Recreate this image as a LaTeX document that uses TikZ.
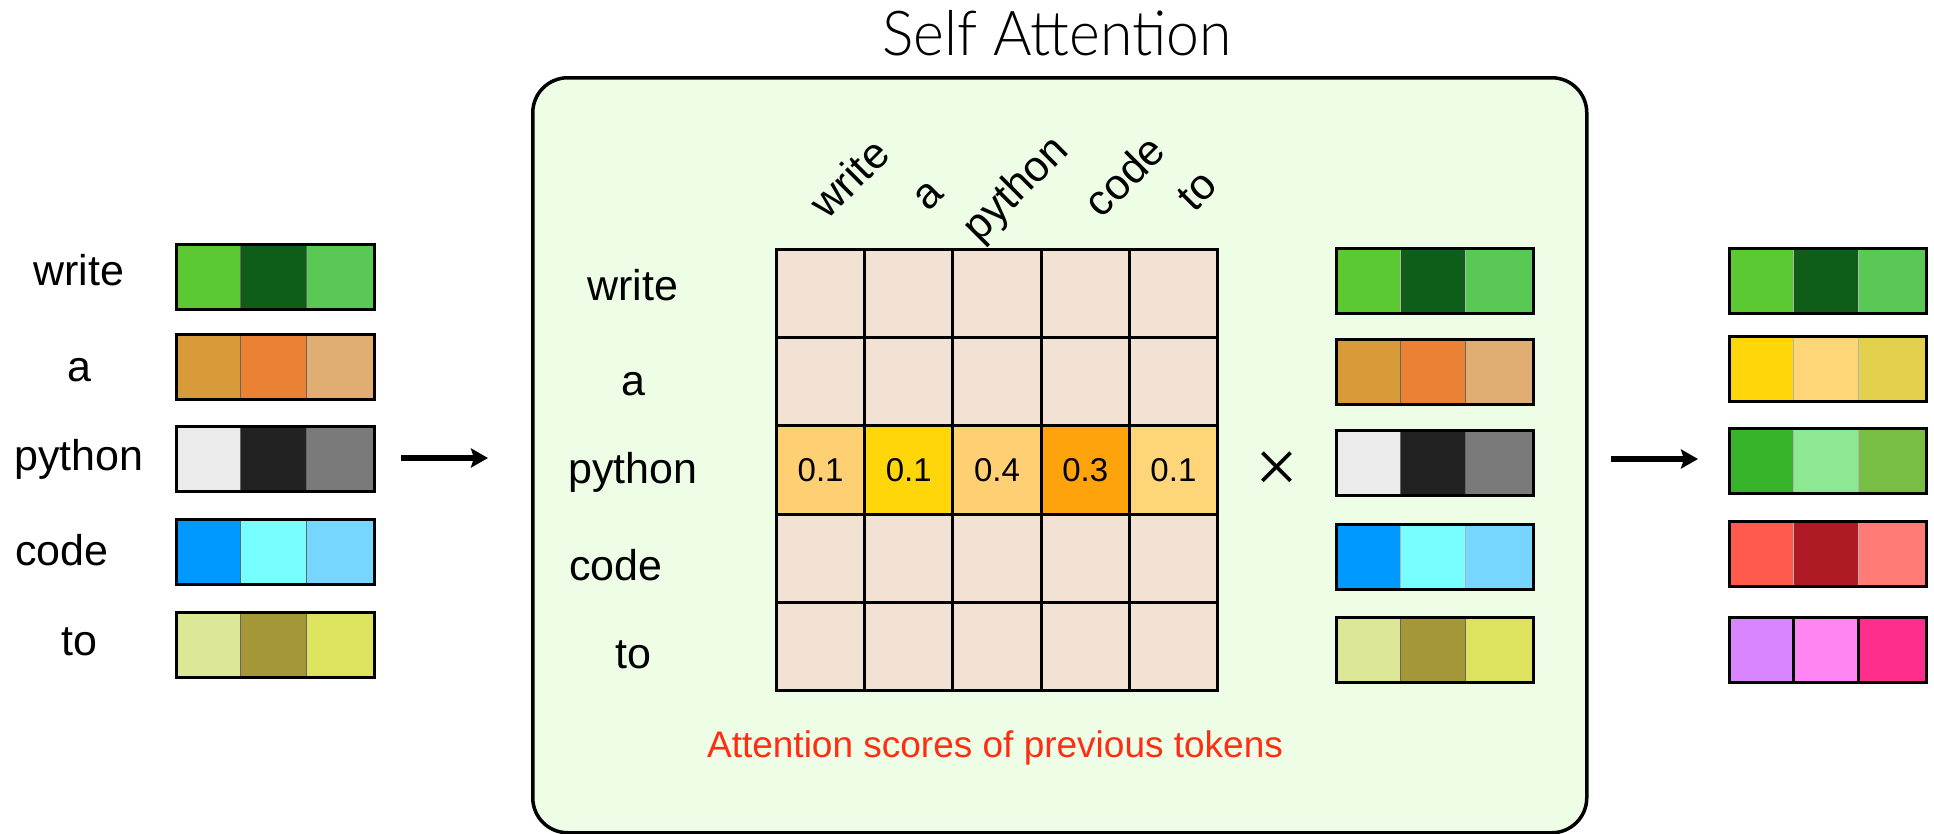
\documentclass[tikz,border=0pt]{standalone}
\usepackage{fontspec}
\setmainfont{Liberation Sans}
\newfontfamily\titlefont[FakeStretch=0.95]{Lato Light}
\newfontfamily\opfont{Liberation Serif}
\usetikzlibrary{arrows.meta}

% panel and grid colours
\definecolor{framefill}{HTML}{EDFDE6}
\definecolor{cellfill}{HTML}{F2E2D3}
\definecolor{scoreA}{HTML}{FFD073}
\definecolor{scoreB}{HTML}{FFD60A}
\definecolor{scoreC}{HTML}{FFA30D}
\definecolor{scoreD}{HTML}{FFD57A}
\definecolor{attnred}{HTML}{FF2D12}
% token embedding colours
\definecolor{wA}{HTML}{5DC932}\definecolor{wB}{HTML}{0E5E1A}\definecolor{wC}{HTML}{59C855}
\definecolor{aA}{HTML}{D99B3A}\definecolor{aB}{HTML}{EB8133}\definecolor{aC}{HTML}{E0AE72}
\definecolor{pA}{HTML}{EBEBEB}\definecolor{pB}{HTML}{222222}\definecolor{pC}{HTML}{7A7A7A}
\definecolor{cA}{HTML}{0099FF}\definecolor{cB}{HTML}{77FFFF}\definecolor{cC}{HTML}{77D6FF}
\definecolor{tA}{HTML}{DDE896}\definecolor{tB}{HTML}{A39738}\definecolor{tC}{HTML}{DDE35E}
% output embedding colours
\definecolor{oaA}{HTML}{FFD60A}\definecolor{oaB}{HTML}{FFD57A}\definecolor{oaC}{HTML}{E3D14E}
\definecolor{opA}{HTML}{38B42A}\definecolor{opB}{HTML}{8DE893}\definecolor{opC}{HTML}{78BE44}
\definecolor{ocA}{HTML}{FF5A4B}\definecolor{ocB}{HTML}{AE1B24}\definecolor{ocC}{HTML}{FF7B75}
\definecolor{otA}{HTML}{D885FF}\definecolor{otB}{HTML}{FF85F5}\definecolor{otC}{HTML}{FF2E8C}

% #1 name, #2 left, #3 top, #4 cell width, #5-#7 cell colours, #8 divider style
\newcommand\tokvec[8]{%
  \fill[#5] (#2,#3) rectangle ++(#4,65);
  \fill[#6] (#2+#4,#3) rectangle ++(#4,65);
  \fill[#7] (#2+2*#4,#3) rectangle ++(#4,65);
  \draw[#8] (#2+#4,#3) -- ++(0,65);
  \draw[#8] (#2+2*#4,#3) -- ++(0,65);
  \node[vecframe, minimum width={3*#4pt}, anchor=north west] (#1) at (#2,#3) {};
}

\begin{document}
\begin{tikzpicture}[x=1pt, y=-1pt,
  lbl/.style={font=\fontsize{43}{43}\selectfont, inner sep=0pt},
  vecframe/.style={draw=black, line width=3pt, minimum height=65pt, inner sep=0pt},
  thindiv/.style={draw=black!60, line width=1pt},
  palediv/.style={draw=black!30, line width=1pt},
  boldiv/.style={draw=black, line width=3pt},
  cell/.style={draw=black, line width=3pt, minimum size=88.2pt, inner sep=0pt,
    anchor=north west, fill=cellfill, font=\fontsize{33}{33}\selectfont},
  flow/.style={line width=6pt, -{Stealth[length=17pt,width=19pt,inset=3pt]}}]

\useasboundingbox (0,0) rectangle (1934,833);

% input tokens and their embeddings
\node[lbl, anchor=base] (lw) at (79,285) {write};
\node[lbl, anchor=base] (la) at (79,381) {a};
\node[lbl, anchor=base] (lp) at (79,470) {python};
\node[lbl, anchor=base west] (lc) at (15,565) {code};
\node[lbl, anchor=base] (lt) at (79,655) {to};

\tokvec{lv1}{174.5}{242.5}{66}{wA}{wB}{wC}{thindiv}
\tokvec{lv2}{174.5}{332.5}{66}{aA}{aB}{aC}{thindiv}
\tokvec{lv3}{174.5}{424.5}{66}{pA}{pB}{pC}{thindiv}
\tokvec{lv4}{174.5}{517.5}{66}{cA}{cB}{cC}{thindiv}
\tokvec{lv5}{174.5}{610.5}{66}{tA}{tB}{tC}{thindiv}

% self-attention panel
\node[draw=black, line width=3.5pt, rounded corners=35pt, fill=framefill,
  minimum width=1054pt, minimum height=755pt, inner sep=0pt, anchor=north west]
  (frame) at (531,76) {};
\node[font=\titlefont\fontsize{62}{62}\selectfont, anchor=base, inner sep=0pt]
  (title) at (1057,55) {Self Attention};

% column headers
\node[lbl, rotate=45] (cw) at (849,178) {write};
\node[lbl, rotate=45] (ca) at (929,196) {a};
\node[lbl, rotate=45] (cp) at (1017,190) {python};
\node[lbl, rotate=45] (cc) at (1124,176) {code};
\node[lbl, rotate=45] (ct) at (1197,191) {to};

% row headers
\node[lbl, anchor=base] (rw) at (633,300) {write};
\node[lbl, anchor=base] (ra) at (633,395) {a};
\node[lbl, anchor=base] (rp) at (633,483) {python};
\node[lbl, anchor=base west] (rc) at (569,580) {code};
\node[lbl, anchor=base] (rt) at (633,668) {to};

% score matrix
\foreach \r in {0,1,3,4}
  \foreach \c in {0,...,4}
    \node[cell] (g\r\c) at (775+88.2*\c, 248+88.2*\r) {};
\node[cell, fill=scoreA] (g20) at (775, 424.4) {0.1};
\node[cell, fill=scoreB] (g21) at (863.2, 424.4) {0.1};
\node[cell, fill=scoreA] (g22) at (951.4, 424.4) {0.4};
\node[cell, fill=scoreC] (g23) at (1039.6, 424.4) {0.3};
\node[cell, fill=scoreD] (g24) at (1127.8, 424.4) {0.1};

\node[font=\opfont\fontsize{76}{76}\selectfont, inner sep=0pt] (times) at (1277,472) {×};

% value vectors
\tokvec{mv1}{1334.5}{246.5}{65.7}{wA}{wB}{wC}{palediv}
\tokvec{mv2}{1334.5}{337.5}{65.7}{aA}{aB}{aC}{thindiv}
\tokvec{mv3}{1334.5}{428.5}{65.7}{pA}{pB}{pC}{thindiv}
\tokvec{mv4}{1334.5}{522.5}{65.7}{cA}{cB}{cC}{palediv}
\tokvec{mv5}{1334.5}{615.5}{65.7}{tA}{tB}{tC}{thindiv}

\node[font=\fontsize{37}{37}\selectfont, text=attnred, anchor=base, inner sep=0pt]
  (caption) at (995,757) {Attention scores of previous tokens};

% output embeddings
\tokvec{ov1}{1727.5}{246.5}{65.7}{wA}{wB}{wC}{palediv}
\tokvec{ov2}{1727.5}{334.5}{65.7}{oaA}{oaB}{oaC}{palediv}
\tokvec{ov3}{1727.5}{426.5}{65.7}{opA}{opB}{opC}{palediv}
\tokvec{ov4}{1727.5}{519.5}{65.7}{ocA}{ocB}{ocC}{palediv}
\tokvec{ov5}{1727.5}{615.5}{65.7}{otA}{otB}{otC}{boldiv}

% flow arrows
\coordinate (inS) at (401,458);
\coordinate (inE) at (488,458);
\coordinate (outS) at (1611,459);
\coordinate (outE) at (1698,459);
\draw[flow] (inS) -- (inE);
\draw[flow] (outS) -- (outE);
\end{tikzpicture}
\end{document}
